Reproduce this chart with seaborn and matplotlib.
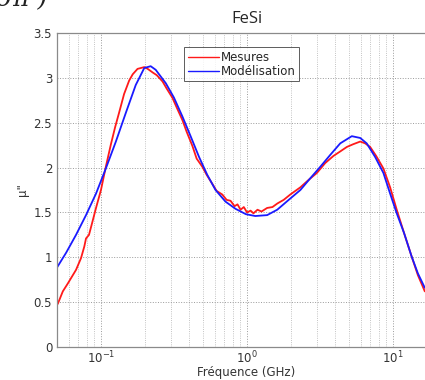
import numpy as np
import pandas as pd
import matplotlib
matplotlib.use("Agg")
import matplotlib.pyplot as plt
import seaborn as sns
from matplotlib.ticker import LogLocator, NullFormatter

# Mesures (frequence en GHz, mu'')
freq_mes = [0.0506, 0.0548, 0.0594, 0.0675, 0.0730, 0.0769, 0.0790, 0.0828, 0.0869,
            0.0925, 0.100, 0.108, 0.117, 0.125, 0.133, 0.144, 0.156,
            0.165, 0.178, 0.198, 0.209, 0.226, 0.241, 0.264, 0.282, 0.308, 0.330,
            0.361, 0.386, 0.423, 0.452, 0.494, 0.529, 0.578, 0.619, 0.677, 0.725,
            0.771, 0.822, 0.861, 0.903, 0.951, 1.0, 1.058, 1.107, 1.18, 1.256, 1.374,
            1.494, 1.615, 1.783, 1.98, 2.32, 2.63, 3.01, 3.43, 3.91, 4.35, 4.83, 5.33,
            5.96, 6.44, 6.97, 7.66, 8.59, 9.55, 10.6, 11.9, 13.4, 14.8, 16.5]
mu_mes = [0.48, 0.62, 0.71, 0.86, 0.99, 1.12, 1.21, 1.25, 1.38,
          1.55, 1.75, 2.01, 2.26, 2.45, 2.61, 2.82, 2.97,
          3.04, 3.10, 3.12, 3.10, 3.06, 3.03, 2.96, 2.88, 2.78, 2.67,
          2.53, 2.40, 2.24, 2.10, 2.01, 1.92, 1.82, 1.74, 1.70, 1.64,
          1.63, 1.57, 1.59, 1.53, 1.56, 1.50, 1.52, 1.49, 1.53, 1.51, 1.55,
          1.56, 1.60, 1.64, 1.70, 1.78, 1.86, 1.94, 2.05, 2.13, 2.18, 2.23, 2.26,
          2.29, 2.27, 2.23, 2.13, 1.99, 1.78, 1.53, 1.27, 1.01, 0.80, 0.62]

# Modelisation
freq_mod = [0.0493, 0.0577, 0.0675, 0.079, 0.0925, 0.108, 0.1265, 0.148, 0.173,
            0.198, 0.219, 0.237, 0.278, 0.316, 0.361, 0.411, 0.469, 0.534,
            0.609, 0.713, 0.835, 0.984, 1.14, 1.374, 1.61, 1.93, 2.32, 2.71, 3.18,
            3.71, 4.35, 5.22, 5.96, 6.6, 7.53, 8.59, 9.55, 10.6, 11.9, 13.4, 14.8, 16.5]
mu_mod = [0.87, 1.05, 1.25, 1.47, 1.71, 1.99, 2.29, 2.61, 2.92,
          3.11, 3.13, 3.09, 2.94, 2.78, 2.57, 2.35, 2.12, 1.92,
          1.75, 1.62, 1.54, 1.48, 1.46, 1.47, 1.53, 1.64, 1.75, 1.88, 2.01,
          2.14, 2.27, 2.35, 2.33, 2.27, 2.12, 1.94, 1.71, 1.49, 1.27, 1.01, 0.82, 0.66]

sns.set_style("white")
plt.rcParams['font.family'] = ['DejaVu Sans']

fig = plt.figure(figsize=(4.25, 3.8), dpi=100)
ax = fig.add_axes([57 / 425, 1 - 347 / 380, 380 / 425, 314 / 380])

df_mes = pd.DataFrame({"f": freq_mes, "mu": mu_mes})
df_mod = pd.DataFrame({"f": freq_mod, "mu": mu_mod})
sns.lineplot(data=df_mes, x="f", y="mu", color="#ff1a1a", lw=1.3, label="Mesures",
             estimator=None, sort=False, ax=ax)
sns.lineplot(data=df_mod, x="f", y="mu", color="#1a1aff", lw=1.3, label="Modélisation",
             estimator=None, sort=False, ax=ax)

ax.set_xscale("log")
ax.set_xlim(0.05, 20)
ax.set_ylim(0, 3.5)
ax.set_yticks([0, 0.5, 1, 1.5, 2, 2.5, 3, 3.5])
ax.set_yticklabels(["0", "0.5", "1", "1.5", "2", "2.5", "3", "3.5"])
ax.xaxis.set_major_locator(LogLocator(base=10, numticks=10))
ax.xaxis.set_minor_locator(LogLocator(base=10, subs=np.arange(2, 10), numticks=20))
ax.xaxis.set_minor_formatter(NullFormatter())

ax.grid(True, which="major", axis="both", ls=":", color="#9a9a9a", lw=0.7)
ax.grid(True, which="minor", axis="x", ls=":", color="#b0b0b0", lw=0.6)
ax.tick_params(axis="both", which="both", direction="in", colors="#555555",
               labelsize=8.5, labelcolor="#333333")
ax.tick_params(axis="x", which="major", pad=2)
ax.tick_params(which="major", length=4)
ax.tick_params(which="minor", length=2)
for s in ax.spines.values():
    s.set_color("#8a8a8a")
    s.set_linewidth(0.9)

ax.set_xlabel("Fréquence (GHz)", fontsize=8.5, color="#333333")
ax.xaxis.label.set_va("center")
ax.xaxis.set_label_coords(0.497, -0.08)
ax.set_ylabel('µ"', fontsize=8.5, color="#333333", labelpad=3)
ax.set_title("FeSi", fontsize=12, family=["Open Sans", "DejaVu Sans"], pad=7)

leg = ax.legend(loc="upper left", bbox_to_anchor=(0.335, 0.955), fontsize=8.5,
                frameon=True, fancybox=False, borderpad=0.3, labelspacing=0.1,
                handlelength=2.6, handletextpad=0.2, borderaxespad=0)
leg.get_frame().set_edgecolor("#333333")
leg.get_frame().set_linewidth(0.7)
for h in leg.get_lines():
    h.set_linewidth(1.0)

fig.text(-0.01, 1.0, "σπ )", fontsize=18, style="italic", va="center",
         family=["DejaVu Serif"], color="#222222")

fig.savefig("out.png", dpi=100)
